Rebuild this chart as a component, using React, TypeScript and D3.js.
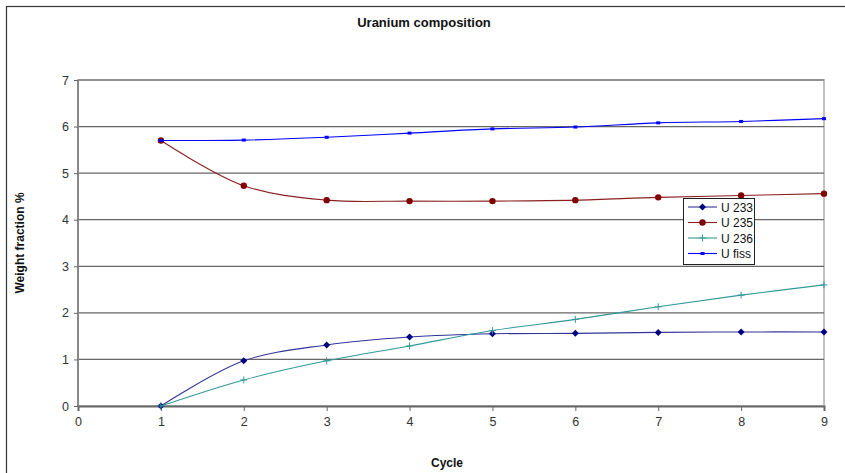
import { useEffect, useRef } from "react"
import * as d3 from "d3"

const cycles = [1, 2, 3, 4, 5, 6, 7, 8, 9]
const u233 = [0, 0.97, 1.31, 1.48, 1.55, 1.56, 1.58, 1.59, 1.59]
const u235 = [5.7, 4.73, 4.42, 4.4, 4.4, 4.42, 4.48, 4.52, 4.56]
const u236 = [0, 0.56, 0.97, 1.29, 1.62, 1.86, 2.13, 2.38, 2.6]
const ufiss = [5.7, 5.71, 5.77, 5.86, 5.95, 5.99, 6.08, 6.11, 6.17]

const xTicks = [0, 1, 2, 3, 4, 5, 6, 7, 8, 9]
const yTicks = [0, 1, 2, 3, 4, 5, 6, 7]

const seriesNames = ["U 233", "U 235", "U 236", "U fiss"]
const seriesColors = ["#000080", "#800000", "#339999", "#0000ff"]
const lineColors = ["#33339a", "#8a2020", "#339999", "#0000ff"]
const markerKinds = ["diamond", "circle", "plus", "square"]

const W = 845
const H = 473
const font = "Arial, 'Liberation Sans', sans-serif"

export default function App() {
  const svgRef = useRef<SVGSVGElement>(null)

  useEffect(() => {
    if (!svgRef.current) return
    const svg = d3.select(svgRef.current)
    svg.selectAll("*").remove()

    const left = 78, right = 824, top = 80, bottom = 406
    const x = d3.scaleLinear().domain([0, 9]).range([left, right])
    const y = d3.scaleLinear().domain([0, 7]).range([bottom, top])

    svg.append("rect").attr("width", W).attr("height", H).attr("fill", "#fff")

    // outer frame
    svg.append("rect")
      .attr("x", 6.5).attr("y", 6.5).attr("width", W + 10).attr("height", H + 10)
      .attr("fill", "none").attr("stroke", "#333").attr("stroke-width", 1.2)

    // plot area border
    svg.append("rect")
      .attr("x", left).attr("y", top).attr("width", right - left).attr("height", bottom - top)
      .attr("fill", "none").attr("stroke", "#c0c0c0").attr("stroke-width", 2)

    // gridlines
    svg.append("g").selectAll("line").data(yTicks.filter(d => d > 0)).join("line")
      .attr("x1", left).attr("x2", right)
      .attr("y1", d => y(d)).attr("y2", d => y(d))
      .attr("stroke", "#666").attr("stroke-width", 1.2)

    // y axis
    svg.append("line").attr("x1", left).attr("x2", left).attr("y1", top).attr("y2", bottom)
      .attr("stroke", "#888").attr("stroke-width", 2)
    const yAxis = svg.append("g").attr("transform", `translate(${left},0)`)
      .call(d3.axisLeft(y).tickValues(yTicks).tickSize(4).tickPadding(5).tickFormat(d3.format("d")))
    yAxis.select(".domain").remove()
    yAxis.selectAll(".tick line").attr("stroke", "#666")
    yAxis.selectAll("text").attr("font-family", font).attr("font-size", 12.5).attr("fill", "#333")

    // x axis
    const xAxis = svg.append("g").attr("transform", `translate(0,${bottom})`)
      .call(d3.axisBottom(x).tickValues(xTicks).tickSize(5).tickPadding(6).tickFormat(d3.format("d")))
    xAxis.select(".domain").attr("stroke", "#666").attr("stroke-width", 2)
    xAxis.selectAll(".tick line").attr("stroke", "#666")
    xAxis.selectAll("text").attr("font-family", font).attr("font-size", 12.5).attr("fill", "#333")

    // title and axis labels
    svg.append("text").attr("x", 424).attr("y", 27).attr("text-anchor", "middle")
      .attr("font-family", font).attr("font-size", 13).attr("font-weight", "bold").attr("fill", "#111")
      .text("Uranium composition")
    svg.append("text").attr("x", 447).attr("y", 467).attr("text-anchor", "middle")
      .attr("font-family", font).attr("font-size", 12).attr("font-weight", "bold").attr("fill", "#111")
      .text("Cycle")
    svg.append("text").attr("transform", "translate(24,243) rotate(-90)").attr("text-anchor", "middle")
      .attr("font-family", font).attr("font-size", 12).attr("font-weight", "bold").attr("fill", "#111")
      .text("Weight fraction %")

    const allSeries = [u233, u235, u236, ufiss]
    const line = d3.line<number>()
      .x((_, i) => x(cycles[i]))
      .y(d => y(d))
      .curve(d3.curveCatmullRom.alpha(0.5))

    const drawMarker = (g: d3.Selection<SVGGElement, unknown, null, undefined>, kind: string, cx: number, cy: number, color: string) => {
      if (kind === "diamond") {
        g.append("path").attr("d", `M${cx},${cy - 3.5}L${cx + 3.5},${cy}L${cx},${cy + 3.5}L${cx - 3.5},${cy}Z`).attr("fill", color)
      } else if (kind === "circle") {
        g.append("circle").attr("cx", cx).attr("cy", cy).attr("r", 3.2).attr("fill", color)
      } else if (kind === "plus") {
        g.append("path").attr("d", `M${cx - 3.5},${cy}H${cx + 3.5}M${cx},${cy - 3.5}V${cy + 3.5}`)
          .attr("stroke", color).attr("stroke-width", 1)
      } else {
        g.append("rect").attr("x", cx - 2).attr("y", cy - 1.5).attr("width", 4).attr("height", 3).attr("fill", color)
      }
    }

    allSeries.forEach((vals, s) => {
      const g = svg.append("g")
      g.append("path").attr("d", line(vals) as string)
        .attr("fill", "none").attr("stroke", lineColors[s]).attr("stroke-width", 1.1)
      vals.forEach((v, i) => drawMarker(g, markerKinds[s], x(cycles[i]), y(v), seriesColors[s]))
    })

    // legend
    const lg = svg.append("g").attr("transform", "translate(683,198)")
    lg.append("rect").attr("x", 0.5).attr("y", 0.5).attr("width", 71).attr("height", 66)
      .attr("fill", "#fff").attr("stroke", "#222").attr("stroke-width", 1)
    seriesNames.forEach((name, s) => {
      const ry = 9 + s * 15.5
      lg.append("line").attr("x1", 5).attr("x2", 34).attr("y1", ry).attr("y2", ry)
        .attr("stroke", lineColors[s]).attr("stroke-width", 1.1)
      drawMarker(lg, markerKinds[s], 19.5, ry, seriesColors[s])
      lg.append("text").attr("x", 38).attr("y", ry + 4.5)
        .attr("font-family", font).attr("font-size", 12).attr("fill", "#111").text(name)
    })
  }, [])

  return (
    <svg
      ref={svgRef}
      width={W}
      height={H}
      style={{ position: "absolute", left: 0, top: 0, display: "block" }}
    />
  )
}
